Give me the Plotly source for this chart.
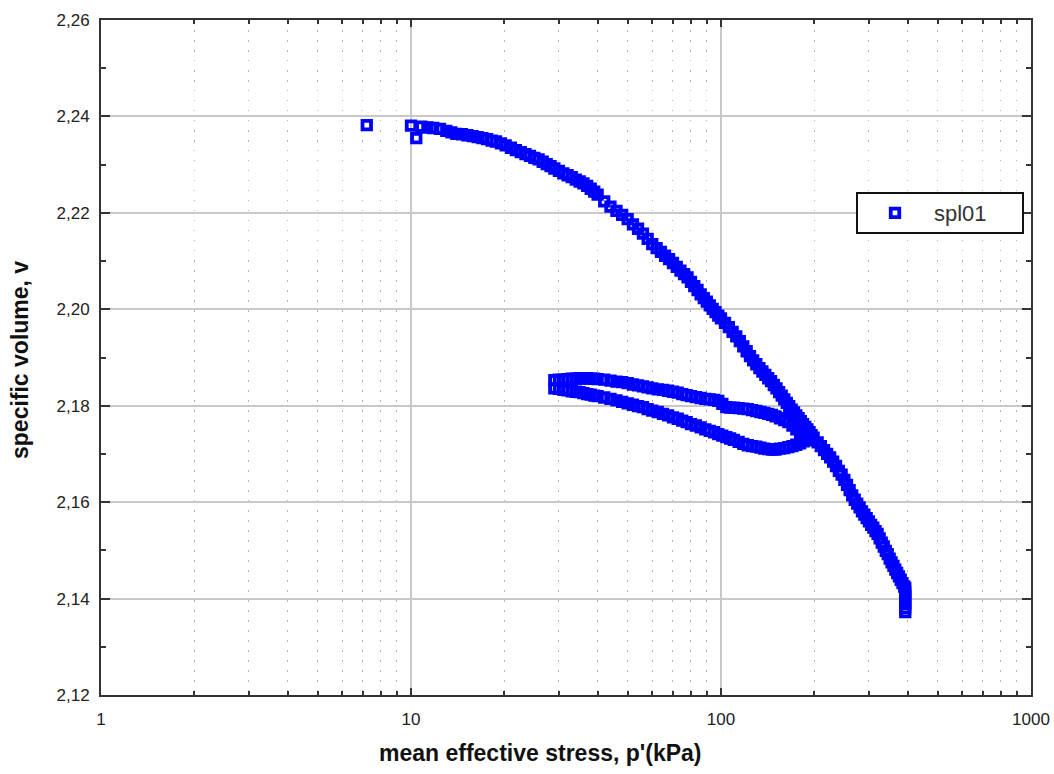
import plotly.graph_objects as go

# Isotropic compression, first loading branch (p' in kPa, specific volume v)
p_load_a = [7.2, 10.0, 10.4, 10.8, 11.3, 11.8, 12.4, 13.0, 13.5, 14.0, 14.6, 15.2, 15.8,
            16.4, 17.0, 17.6, 18.2, 18.8, 19.5, 20.2, 21.0, 21.8, 22.6, 23.4, 24.2, 25.0,
            25.8, 26.6, 27.4, 28.2, 29.0, 30.0, 31.0, 32.0, 33.0, 34.0, 35.0, 36.0, 37.0,
            38.0, 39.0]
v_load_a = [2.2382, 2.2381, 2.2355, 2.2379, 2.2377, 2.2376, 2.2374, 2.2370, 2.2367, 2.2364,
            2.2363, 2.2361, 2.2359, 2.2357, 2.2355, 2.2353, 2.2350, 2.2348, 2.2344, 2.2340,
            2.2335, 2.2330, 2.2326, 2.2322, 2.2318, 2.2314, 2.2311, 2.2306, 2.2301, 2.2297,
            2.2292, 2.2287, 2.2282, 2.2278, 2.2274, 2.2269, 2.2265, 2.2261, 2.2256, 2.2250,
            2.2244]

p_load_b = [40, 42, 44, 46, 48, 50, 52, 54, 56, 58, 60, 62, 64, 66, 68, 70, 72, 74, 76, 78,
            80, 82, 84, 86, 88, 90, 92, 94, 96, 98, 100]
v_load_b = [2.2238, 2.2224, 2.2213, 2.2204, 2.2196, 2.2187, 2.2176, 2.2167, 2.2157, 2.2146,
            2.2135, 2.2127, 2.2119, 2.2111, 2.2104, 2.2096, 2.2088, 2.2080, 2.2073, 2.2066,
            2.2057, 2.2048, 2.2040, 2.2031, 2.2023, 2.2016, 2.2008, 2.2001, 2.1994, 2.1987,
            2.1981]

p_load_c = [103, 106, 109, 112, 115, 118, 121, 124, 127, 130, 133, 136, 139, 142, 145, 148,
            151, 154, 157, 160, 163, 166, 169, 172, 175, 178, 181, 184, 187, 190, 193, 196,
            199]
v_load_c = [2.1972, 2.1963, 2.1953, 2.1944, 2.1934, 2.1923, 2.1913, 2.1903, 2.1894, 2.1886,
            2.1878, 2.1871, 2.1864, 2.1857, 2.1851, 2.1843, 2.1836, 2.1828, 2.1821, 2.1813,
            2.1806, 2.1799, 2.1792, 2.1786, 2.1780, 2.1774, 2.1768, 2.1762, 2.1756, 2.1751,
            2.1745, 2.1739, 2.1734]

# Unload / reload loop between ~30 and ~190 kPa
p_loop = [29, 30, 31, 32, 33, 34, 35, 36, 37, 38, 39, 40, 42, 44, 46, 48, 50, 52, 54, 56,
          58, 60, 62.5, 65, 67.5, 70, 72.5, 75, 77.5, 80, 83, 86, 89, 92, 95, 98, 101, 104,
          107, 110, 114, 118, 122, 126, 130, 134, 138, 142, 146, 150, 155, 160, 165, 170,
          175, 180, 185, 190]
v_unload = [2.1853, 2.1854, 2.1854, 2.1855, 2.1856, 2.1856, 2.1857, 2.1857, 2.1857, 2.1856,
            2.1856, 2.1855, 2.1854, 2.1852, 2.1850, 2.1849, 2.1847, 2.1844, 2.1842, 2.1840,
            2.1838, 2.1836, 2.1834, 2.1833, 2.1831, 2.1829, 2.1827, 2.1824, 2.1822, 2.1820,
            2.1818, 2.1816, 2.1814, 2.1813, 2.1812, 2.1810, 2.1804, 2.1797, 2.1796, 2.1796,
            2.1795, 2.1794, 2.1793, 2.1791, 2.1789, 2.1787, 2.1785, 2.1783, 2.1781, 2.1778,
            2.1774, 2.1770, 2.1766, 2.1759, 2.1751, 2.1743, 2.1736, 2.1728]
v_reload = [2.1836, 2.1835, 2.1833, 2.1832, 2.1830, 2.1829, 2.1828, 2.1826, 2.1824, 2.1823,
            2.1821, 2.1820, 2.1817, 2.1814, 2.1811, 2.1808, 2.1805, 2.1802, 2.1799, 2.1797,
            2.1793, 2.1790, 2.1787, 2.1783, 2.1780, 2.1776, 2.1773, 2.1769, 2.1766, 2.1762,
            2.1759, 2.1755, 2.1751, 2.1748, 2.1745, 2.1741, 2.1738, 2.1735, 2.1732, 2.1729,
            2.1725, 2.1721, 2.1718, 2.1716, 2.1715, 2.1713, 2.1711, 2.1710, 2.1709, 2.1709,
            2.1711, 2.1712, 2.1714, 2.1716, 2.1719, 2.1722, 2.1726, 2.1729]

# Second loading branch up to ~393 kPa, then creep at constant p'
p_load_d = [205, 210, 215, 220, 225, 230, 235, 240, 245, 250, 255, 260, 265, 270, 275, 280,
            285, 290, 295, 300, 305, 310, 315, 320, 325, 330, 335, 340, 345, 350, 355, 360,
            365, 370, 375, 380, 385, 390, 393, 393, 393, 393, 393, 393, 393]
v_load_d = [2.1724, 2.1716, 2.1708, 2.1700, 2.1693, 2.1684, 2.1675, 2.1665, 2.1657, 2.1646,
            2.1636, 2.1625, 2.1614, 2.1605, 2.1597, 2.1589, 2.1581, 2.1574, 2.1567, 2.1560,
            2.1553, 2.1547, 2.1540, 2.1534, 2.1525, 2.1516, 2.1508, 2.1499, 2.1492, 2.1483,
            2.1475, 2.1468, 2.1460, 2.1453, 2.1446, 2.1439, 2.1432, 2.1425, 2.1422, 2.1414,
            2.1405, 2.1397, 2.1389, 2.1380, 2.1372]

x_ticks = [1, 10, 100, 1000]
x_tick_text = ["1", "10", "100", "1000"]

p_all = p_load_a + p_load_b + p_load_c + p_loop + p_loop + p_load_d
v_all = v_load_a + v_load_b + v_load_c + v_unload + v_reload + v_load_d

BLUE = "#0000ff"
FRAME = "#333333"
GRID = "#c8c8c8"
DOT = "#b4b4b4"
FONT = "Liberation Sans, Arial, sans-serif"

# plot area in pixels, used to place the legend frame and axis titles
L, R, T, B = 101, 1031, 20, 695
W, H = R - L, B - T


def px_x(x):
    return (x - L) / W


def px_y(y):
    return (B - y) / H


fig = go.Figure()
fig.add_trace(go.Scatter(
    x=p_all, y=v_all, mode="markers", name="spl01",
    marker=dict(symbol="square-open", size=8.5, color=BLUE,
                line=dict(color=BLUE, width=3.8)),
))

fig.update_layout(
    width=1054, height=774,
    margin=dict(l=L, r=1054 - R, t=T, b=774 - B, autoexpand=False),
    paper_bgcolor="white", plot_bgcolor="white",
    separators=",.",
    font=dict(family=FONT, size=17, color="#222222"),
    showlegend=True,
    legend=dict(
        x=px_x(856), xanchor="left",
        y=px_y(213), yanchor="middle",
        bgcolor="rgba(0,0,0,0)", borderwidth=0,
        font=dict(family=FONT, size=22, color="#333333"),
        itemwidth=68,
    ),
    shapes=[
        dict(type="rect", xref="paper", yref="paper",
             x0=px_x(857), x1=px_x(1023), y0=px_y(233), y1=px_y(193),
             line=dict(color="#111111", width=2), fillcolor="white", layer="above"),
    ],
    xaxis=dict(
        type="log", range=[0, 3], automargin=False,
        tickmode="array", tickvals=x_ticks, ticktext=x_tick_text,
        ticks="inside", ticklen=7, tickwidth=2, tickcolor=FRAME,
        showline=True, linecolor=FRAME, linewidth=2, mirror="ticks",
        showgrid=True, gridcolor=GRID, gridwidth=1.5,
        zeroline=False, ticklabelstandoff=8,
        minor=dict(dtick="D1", ticks="inside", ticklen=4, tickwidth=2, tickcolor=FRAME,
                   showgrid=True, gridcolor=DOT, gridwidth=1.2, griddash="1.5px,8.5px"),
    ),
    yaxis=dict(
        range=[2.12, 2.26], dtick=0.02, tickformat=".2f", automargin=False,
        ticks="inside", ticklen=9, tickwidth=2, tickcolor=FRAME,
        showline=True, linecolor=FRAME, linewidth=2, mirror="ticks",
        showgrid=True, gridcolor=GRID, gridwidth=1.5,
        zeroline=False, ticklabelstandoff=6,
        minor=dict(dtick=0.01, ticks="inside", ticklen=5, tickwidth=2, tickcolor=FRAME,
                   showgrid=False),
    ),
    annotations=[
        dict(text="<b>mean effective stress, p'(kPa)</b>", xref="paper", yref="paper",
             x=px_x(540), y=px_y(753), xanchor="center", yanchor="middle",
             showarrow=False, font=dict(family=FONT, size=23, color="#111111")),
        dict(text="<b>specific volume, v</b>", xref="paper", yref="paper",
             x=px_x(20), y=px_y(360), xanchor="center", yanchor="middle",
             textangle=-90, showarrow=False, font=dict(family=FONT, size=23, color="#111111")),
    ],
)

fig.write_html("out.html")
